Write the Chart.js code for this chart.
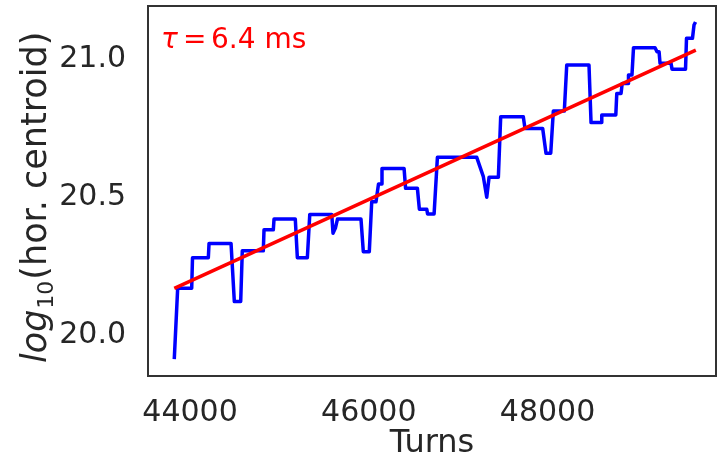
<!DOCTYPE html>
<html>
<head>
<meta charset="utf-8">
<script src="https://cdn.jsdelivr.net/npm/chart.js@4.4.1/dist/chart.umd.min.js"></script>
<style>
  html, body { margin: 0; padding: 0; background: #ffffff; }
  #wrap { width: 717px; height: 462px; }
</style>
</head>
<body>
<div id="wrap"><canvas id="chart" width="717" height="462"></canvas></div>
<script>
// Horizontal centroid (log10) versus turn number
const turns = [43824, 43862, 44019, 44028, 44205, 44213, 44459, 44496, 44567, 44585,
  44820, 44828, 44932, 44940, 45178, 45201, 45313, 45340, 45586, 45600,
  45628, 45650, 45913, 45939, 46006, 46033, 46081, 46109, 46137, 46148,
  46395, 46412, 46544, 46566, 46649, 46658, 46731, 46768, 47208, 47282,
  47320, 47346, 47450, 47476, 47729, 47748, 47946, 47983, 48036, 48065,
  48188, 48215, 48464, 48487, 48599, 48607, 48764, 48775, 48823, 48835,
  48902, 48906, 48945, 48962, 49203, 49225, 49248, 49259, 49382, 49393,
  49544, 49555, 49622, 49639, 49656];
const centroid = [19.906, 20.163, 20.163, 20.274, 20.274, 20.326, 20.326, 20.115, 20.115, 20.299,
  20.299, 20.375, 20.375, 20.414, 20.414, 20.274, 20.274, 20.431, 20.431, 20.363,
  20.383, 20.414, 20.414, 20.296, 20.296, 20.477, 20.477, 20.541, 20.541, 20.598,
  20.598, 20.526, 20.526, 20.450, 20.450, 20.433, 20.433, 20.638, 20.638, 20.568,
  20.493, 20.566, 20.566, 20.785, 20.785, 20.743, 20.743, 20.653, 20.653, 20.806,
  20.806, 20.973, 20.973, 20.764, 20.764, 20.792, 20.792, 20.870, 20.870, 20.906,
  20.906, 20.937, 20.937, 21.036, 21.036, 21.021, 21.021, 20.979, 20.979, 20.958,
  20.958, 21.070, 21.070, 21.118, 21.129];

// Exponential fit (straight line in log space), end points
const fitTurns = [43824, 49659];
const fitCentroid = [20.163, 21.027];

// Axis ticks
const xTicks = [44000, 46000, 48000];
const yTicks = [20.0, 20.5, 21.0];

const TEXT = '#262626';
const FONT = "'DejaVu Sans', sans-serif";

const toPoints = (xs, ys) => xs.map((x, i) => ({ x: x, y: ys[i] }));

// Frame around the plotting area, fit annotation and y-axis label with subscript
const decorations = {
  id: 'decorations',
  afterDraw(chart) {
    const { ctx, chartArea: a } = chart;
    ctx.save();
    ctx.strokeStyle = '#333333';
    ctx.lineWidth = 2;
    ctx.strokeRect(a.left, a.top, a.right - a.left, a.bottom - a.top);

    // tau annotation
    ctx.fillStyle = '#ff0000';
    ctx.textBaseline = 'alphabetic';
    ctx.textAlign = 'left';
    ctx.font = "italic 28px " + FONT;
    ctx.fillText('\u03c4', 161, 47.5);
    ctx.font = "28px " + FONT;
    ctx.fillText('=', 183, 47.5);
    ctx.fillText('6.4 ms', 211, 47.5);

    // y-axis label
    ctx.fillStyle = TEXT;
    ctx.translate(46, 363);
    ctx.rotate(-Math.PI / 2);
    let x = 0;
    ctx.font = "italic 35px " + FONT;
    ctx.fillText('log', x, 0);
    x += ctx.measureText('log').width;
    ctx.font = "22px " + FONT;
    ctx.fillText('10', x + 1, 7);
    x += ctx.measureText('10').width + 2;
    ctx.font = "35px " + FONT;
    ctx.fillText('(hor. centroid)', x, 0);
    ctx.restore();
  }
};

new Chart(document.getElementById('chart'), {
  type: 'line',
  data: {
    datasets: [
      {
        label: 'fit',
        data: toPoints(fitTurns, fitCentroid),
        borderColor: '#ff0000',
        borderWidth: 3.5,
        pointRadius: 0,
        tension: 0,
        order: 0
      },
      {
        label: 'centroid',
        data: toPoints(turns, centroid),
        borderColor: '#0000ff',
        borderWidth: 3.5,
        borderJoinStyle: 'round',
        pointRadius: 0,
        tension: 0,
        order: 1
      }
    ]
  },
  options: {
    responsive: false,
    animation: false,
    devicePixelRatio: 1,
    layout: { padding: { left: 0, right: 1, top: 6, bottom: 0 } },
    plugins: {
      legend: { display: false },
      tooltip: { enabled: false }
    },
    scales: {
      x: {
        type: 'linear',
        min: 43530,
        max: 49885,
        grid: { display: false },
        border: { display: false },
        afterBuildTicks: (s) => { s.ticks = xTicks.map(v => ({ value: v })); },
        afterFit: (s) => {
          s.height = 86;
          s.paddingLeft = 0; s.paddingRight = 0;
          s.paddingTop = 0; s.paddingBottom = 0;
        },
        ticks: {
          color: TEXT,
          font: { family: FONT, size: 30 },
          padding: 11,
          maxRotation: 0,
          callback: (v) => String(v)
        },
        title: {
          display: true,
          text: 'Turns',
          color: TEXT,
          font: { family: FONT, size: 32, lineHeight: 1 },
          padding: { top: 0, bottom: 2 }
        }
      },
      y: {
        type: 'linear',
        min: 19.845,
        max: 21.187,
        grid: { display: false },
        border: { display: false },
        afterBuildTicks: (s) => { s.ticks = yTicks.map(v => ({ value: v })); },
        afterFit: (s) => {
          s.width = 148;
          s.paddingLeft = 0; s.paddingRight = 0;
          s.paddingTop = 0; s.paddingBottom = 0;
        },
        ticks: {
          color: TEXT,
          font: { family: FONT, size: 30 },
          padding: 14,
          labelOffset: 2,
          callback: (v) => Number(v).toFixed(1)
        }
      }
    }
  },
  plugins: [decorations]
});
</script>
</body>
</html>
